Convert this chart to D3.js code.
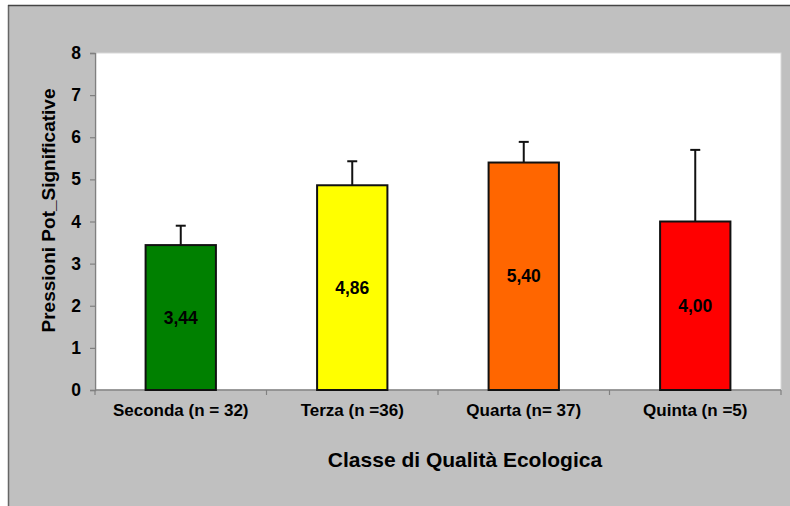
<!DOCTYPE html>
<html>
<head>
<meta charset="utf-8">
<script src="https://cdn.jsdelivr.net/npm/d3@7/dist/d3.min.js"></script>
<style>
  html, body { margin: 0; padding: 0; background: #ffffff; }
  svg { display: block; font-family: "Liberation Sans", Arial, sans-serif; }
</style>
</head>
<body>
<svg id="chart" width="790" height="506"></svg>
<script>
// Mean number of potentially significant pressures by ecological quality class
const categories = ["Seconda (n = 32)", "Terza (n =36)", "Quarta (n= 37)", "Quinta (n =5)"];
const means = [3.44, 4.86, 5.40, 4.00];
const errors = [0.46, 0.57, 0.49, 1.70];
const colors = ["#008000", "#ffff00", "#ff6600", "#ff0000"];
const yTicks = [0, 1, 2, 3, 4, 5, 6, 7, 8];

const svg = d3.select("#chart");
const W = 790, H = 506;

// Chart frame
svg.append("rect").attr("x", 9).attr("y", 6).attr("width", W - 9).attr("height", H - 6)
  .attr("fill", "#c0c0c0");
svg.append("line").attr("x1", 8.5).attr("x2", 8.5).attr("y1", 5).attr("y2", H)
  .attr("stroke", "#666").attr("stroke-width", 1.5);
svg.append("line").attr("x1", 8).attr("x2", W).attr("y1", 5.5).attr("y2", 5.5)
  .attr("stroke", "#444").attr("stroke-width", 1.5);

const plot = { left: 95, top: 53, right: 781, bottom: 390 };

// Plot area
svg.append("rect")
  .attr("x", plot.left).attr("y", plot.top)
  .attr("width", plot.right - plot.left).attr("height", plot.bottom - plot.top)
  .attr("fill", "#ffffff").attr("stroke", "#d8d8d8").attr("stroke-width", 1);

const x = d3.scaleBand().domain(categories).range([plot.left, plot.right]).paddingInner(0).paddingOuter(0);
const y = d3.scaleLinear().domain([0, 8]).range([plot.bottom, plot.top]);
const barW = x.bandwidth() * 0.41;

// Y axis
const yAxis = svg.append("g").attr("transform", `translate(${plot.left},0)`)
  .call(d3.axisLeft(y).tickValues(yTicks).tickSize(5).tickPadding(9).tickFormat(d3.format("d")));
yAxis.select(".domain").attr("stroke", "#808080").attr("stroke-width", 1.5);
yAxis.selectAll(".tick line").attr("stroke", "#808080").attr("stroke-width", 1.2);
yAxis.selectAll(".tick text")
  .attr("font-family", "Liberation Sans, Arial, sans-serif")
  .attr("font-size", 17.5).attr("font-weight", "bold").attr("fill", "#000");

// X axis: ticks at category boundaries
const boundaries = d3.range(categories.length + 1).map(i => plot.left + i * x.bandwidth());
svg.append("line").attr("x1", plot.left).attr("x2", plot.right)
  .attr("y1", plot.bottom).attr("y2", plot.bottom)
  .attr("stroke", "#808080").attr("stroke-width", 1.5);
svg.selectAll(".xtick").data(boundaries).enter().append("line")
  .attr("x1", d => d).attr("x2", d => d)
  .attr("y1", plot.bottom).attr("y2", plot.bottom + 5)
  .attr("stroke", "#808080").attr("stroke-width", 1.2);
svg.selectAll(".xlabel").data(categories).enter().append("text")
  .attr("x", d => x(d) + x.bandwidth() / 2)
  .attr("y", 416)
  .attr("text-anchor", "middle")
  .attr("font-size", 17).attr("font-weight", "bold").attr("fill", "#000")
  .text(d => d);

// Bars
svg.selectAll(".bar").data(categories).enter().append("rect")
  .attr("x", d => x(d) + (x.bandwidth() - barW) / 2)
  .attr("y", (d, i) => y(means[i]))
  .attr("width", barW)
  .attr("height", (d, i) => y(0) - y(means[i]))
  .attr("fill", (d, i) => colors[i])
  .attr("stroke", "#111").attr("stroke-width", 2);

// Upper error bars
const cx = d => x(d) + x.bandwidth() / 2;
svg.selectAll(".err").data(categories).enter().append("line")
  .attr("x1", cx).attr("x2", cx)
  .attr("y1", (d, i) => y(means[i]))
  .attr("y2", (d, i) => y(means[i] + errors[i]))
  .attr("stroke", "#111").attr("stroke-width", 2);
svg.selectAll(".cap").data(categories).enter().append("line")
  .attr("x1", d => cx(d) - 5).attr("x2", d => cx(d) + 5)
  .attr("y1", (d, i) => y(means[i] + errors[i]))
  .attr("y2", (d, i) => y(means[i] + errors[i]))
  .attr("stroke", "#111").attr("stroke-width", 2);

// Value labels in the middle of each bar
const fmt = v => v.toFixed(2).replace(".", ",");
svg.selectAll(".val").data(categories).enter().append("text")
  .attr("x", cx)
  .attr("y", (d, i) => y(means[i] / 2))
  .attr("dy", "0.35em")
  .attr("text-anchor", "middle")
  .attr("font-size", 17.5).attr("font-weight", "bold").attr("fill", "#000")
  .text((d, i) => fmt(means[i]));

// Axis titles
svg.append("text")
  .attr("transform", `translate(55,${(plot.top + plot.bottom) / 2 - 11}) rotate(-90)`)
  .attr("text-anchor", "middle")
  .attr("font-size", 19).attr("font-weight", "bold").attr("fill", "#000")
  .text("Pressioni Pot_Significative");
svg.append("text")
  .attr("x", 465).attr("y", 467)
  .attr("text-anchor", "middle")
  .attr("font-size", 21).attr("font-weight", "bold").attr("fill", "#000")
  .text("Classe di Qualità Ecologica");
</script>
</body>
</html>
